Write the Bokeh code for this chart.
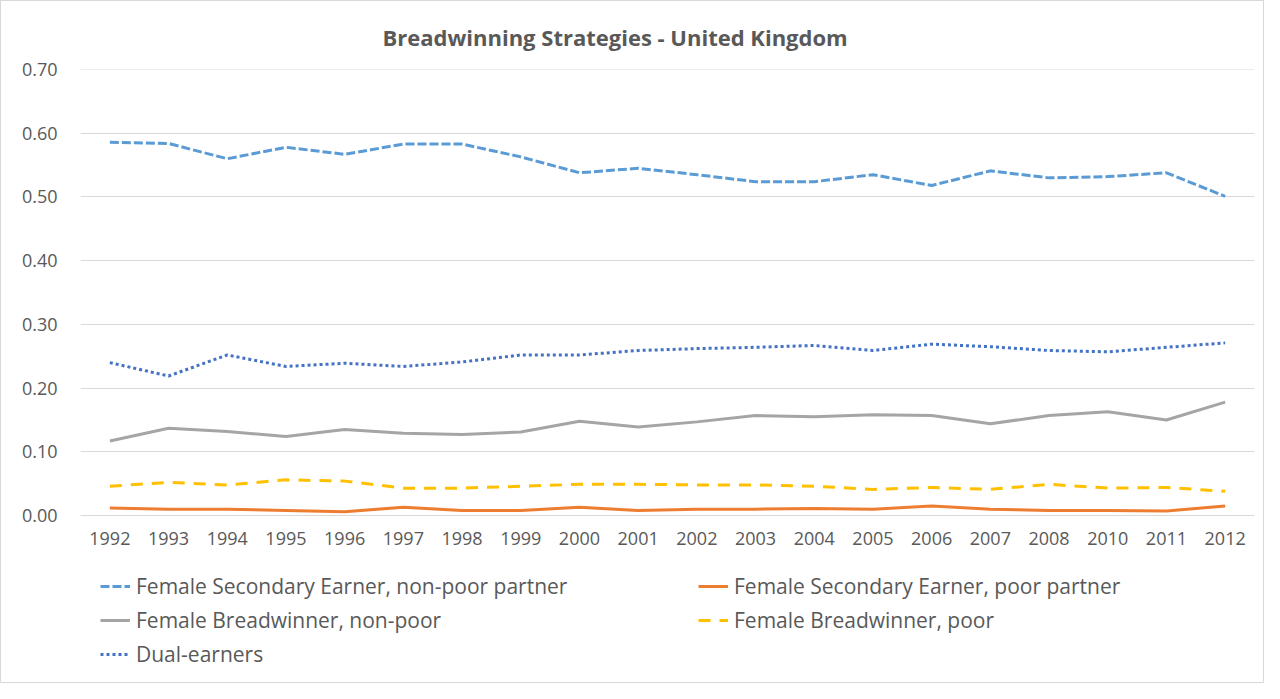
from bokeh.plotting import figure
from bokeh.models import Legend, LegendItem, FactorRange, Range1d, NumeralTickFormatter, CategoricalAxis
from bokeh.embed import file_html
from bokeh.resources import INLINE

years = ["1992", "1993", "1994", "1995", "1996", "1997", "1998", "1999", "2000", "2001",
         "2002", "2003", "2004", "2005", "2006", "2007", "2008", "2010", "2011", "2012"]

fse_nonpoor = [0.586, 0.584, 0.560, 0.578, 0.567, 0.583, 0.583, 0.563, 0.538, 0.545,
               0.535, 0.524, 0.524, 0.535, 0.518, 0.541, 0.530, 0.532, 0.538, 0.501]
fse_poor = [0.012, 0.010, 0.010, 0.008, 0.006, 0.013, 0.008, 0.008, 0.013, 0.008,
            0.010, 0.010, 0.011, 0.010, 0.015, 0.010, 0.008, 0.008, 0.007, 0.015]
fb_nonpoor = [0.117, 0.137, 0.132, 0.124, 0.135, 0.129, 0.127, 0.131, 0.148, 0.139,
              0.147, 0.157, 0.155, 0.158, 0.157, 0.144, 0.157, 0.163, 0.150, 0.178]
fb_poor = [0.046, 0.052, 0.048, 0.056, 0.054, 0.043, 0.043, 0.046, 0.049, 0.049,
           0.048, 0.048, 0.046, 0.041, 0.044, 0.041, 0.049, 0.043, 0.044, 0.038]
dual = [0.240, 0.219, 0.252, 0.234, 0.239, 0.234, 0.241, 0.252, 0.252, 0.259,
        0.262, 0.264, 0.267, 0.259, 0.269, 0.265, 0.259, 0.257, 0.264, 0.271]

labels = ["Female Secondary Earner, non-poor partner",
          "Female Secondary Earner, poor partner",
          "Female Breadwinner, non-poor",
          "Female Breadwinner, poor",
          "Dual-earners"]

FONT = "Open Sans"
TXT = "#595959"

# frame spans down to the bottom so the legend can sit inside it
p = figure(frame_width=1174, frame_height=603, output_backend="svg", toolbar_location=None,
           x_range=FactorRange(*years, range_padding=0),
           y_range=Range1d(-0.2464, 0.7001),
           x_axis_location=None,
           min_border_left=79, min_border_right=9, min_border_top=68,
           min_border_bottom=10)
p.styles = {"border": "1px solid #D9D9D9"}

p.title.text = "Breadwinning Strategies - United Kingdom"
p.title.text_font = FONT
p.title.text_font_size = "22px"
p.title.text_font_style = "bold"
p.title.text_color = TXT
p.title.align = "left"
p.title.offset = 302
p.title.standoff = 35

r1 = p.line(years, fse_nonpoor, line_color="#5B9BD5", line_width=3, line_dash="9 3")
r2 = p.line(years, fse_poor, line_color="#ED7D31", line_width=3)
r3 = p.line(years, fb_nonpoor, line_color="#A5A5A5", line_width=3)
r4 = p.line(years, fb_poor, line_color="#FFC000", line_width=3, line_dash="12 9")
r5 = p.line(years, dual, line_color="#4472C4", line_width=3, line_dash="3 3")
rends = [r1, r2, r3, r4, r5]

# category axis drawn at y = 0 (labels pushed below the line)
xax = CategoricalAxis(fixed_location=0)
xax.major_label_text_font = FONT
xax.major_label_text_font_size = "18px"
xax.major_label_text_color = TXT
xax.major_tick_line_color = None
xax.minor_tick_line_color = None
xax.axis_line_color = "#D9D9D9"
xax.major_label_standoff = -35
p.add_layout(xax, "above")

p.outline_line_color = None
p.xgrid.grid_line_color = None
p.ygrid.grid_line_color = "#D9D9D9"
p.ygrid.grid_line_width = 1
p.yaxis.ticker = [0, 0.1, 0.2, 0.3, 0.4, 0.5, 0.6, 0.7]
p.yaxis.formatter = NumeralTickFormatter(format="0.00")
p.yaxis.major_label_text_font = FONT
p.yaxis.major_label_text_font_size = "18px"
p.yaxis.major_label_text_color = TXT
p.yaxis.major_tick_line_color = None
p.yaxis.minor_tick_line_color = None
p.yaxis.axis_line_color = None
p.yaxis.major_label_standoff = 17

legend = Legend(items=[LegendItem(label=labels[i], renderers=[rends[i]]) for i in range(5)],
                orientation="horizontal", ncols=2, location=(20, 4))
legend.label_text_font = FONT
legend.label_text_font_size = "21px"
legend.label_text_color = TXT
legend.glyph_width = 30
legend.label_standoff = 6
legend.label_width = 556
legend.label_height = 24
legend.glyph_height = 24
legend.spacing = 6
legend.padding = 4
legend.margin = 0
legend.border_line_color = None
legend.background_fill_alpha = 0
p.add_layout(legend, "center")

open("out.html", "w").write(file_html(p, INLINE))
